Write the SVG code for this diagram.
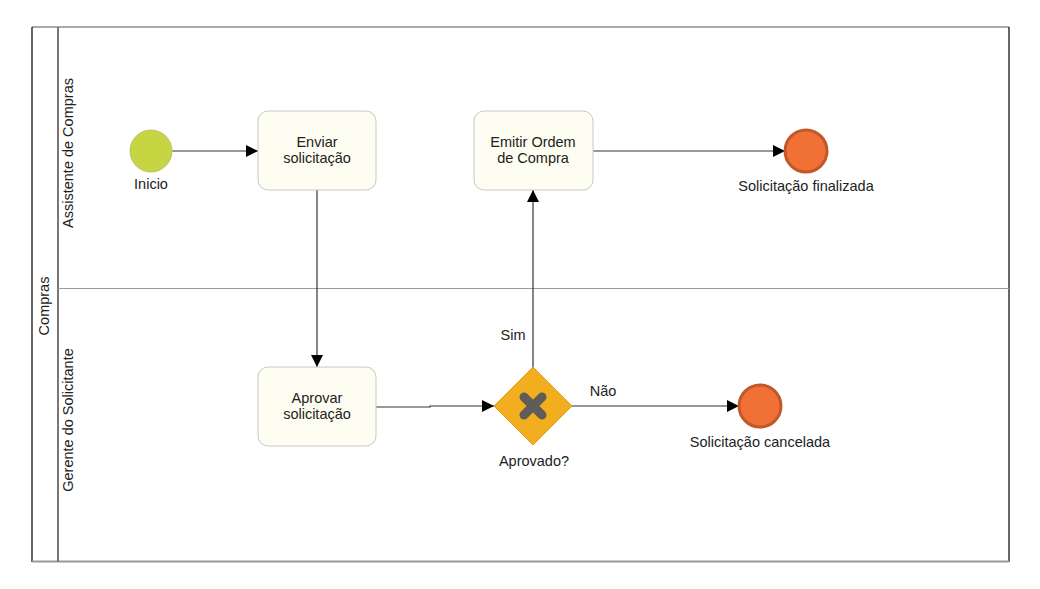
<svg xmlns="http://www.w3.org/2000/svg" width="1040" height="589" viewBox="0 0 1040 589">
<style>
text{font-family:"Liberation Sans","Noto Sans",sans-serif;font-size:14.5px;fill:#222;}
.task{fill:#fdfdf1;stroke:#c8c8c0;stroke-width:1;}
.end{fill:#f07036;stroke:#c2582a;stroke-width:3;}
.flow{fill:none;stroke:#333;stroke-width:1.2;}
</style>
<defs>
<marker id="arr" markerWidth="12" markerHeight="12" refX="12" refY="6" orient="auto" markerUnits="userSpaceOnUse">
<path d="M0,0 L12,6 L0,12 Z" fill="#000"/>
</marker>
</defs>
<rect width="1040" height="589" fill="#fff"/>
<g id="pool">
<line x1="32" y1="27" x2="1009" y2="27" stroke="#555" stroke-width="1"/>
<line x1="32" y1="27" x2="32" y2="562" stroke="#000" stroke-width="1.2"/>
<line x1="1009" y1="27" x2="1009" y2="562" stroke="#000" stroke-width="1.2"/>
<line x1="32" y1="561.5" x2="1009" y2="561.5" stroke="#999" stroke-width="2"/>
<line x1="58" y1="27" x2="58" y2="562" stroke="#777" stroke-width="2"/>
<line x1="58" y1="288.5" x2="1009" y2="288.5" stroke="#999" stroke-width="1"/>
<text transform="translate(49,306) rotate(-90)" text-anchor="middle">Compras</text>
<text transform="translate(73,153) rotate(-90)" text-anchor="middle">Assistente de Compras</text>
<text transform="translate(73,420) rotate(-90)" text-anchor="middle">Gerente do Solicitante</text>
</g>
<g id="connectors">
<line class="flow" x1="172" y1="151" x2="258" y2="151" marker-end="url(#arr)"/>
<line class="flow" x1="317" y1="190" x2="317" y2="367" marker-end="url(#arr)"/>
<polyline class="flow" points="376,407 430,407 430,406 494,406" marker-end="url(#arr)"/>
<line class="flow" x1="533" y1="367" x2="533" y2="190" marker-end="url(#arr)"/>
<line class="flow" x1="593" y1="151" x2="785" y2="151" marker-end="url(#arr)"/>
<line class="flow" x1="572" y1="406" x2="739" y2="406" marker-end="url(#arr)"/>
<text x="513" y="340" text-anchor="middle">Sim</text>
<text x="603" y="396" text-anchor="middle">Não</text>
</g>
<g id="start">
<circle cx="151" cy="151" r="21" fill="#c5d642" stroke="#b8c46a" stroke-width="1"/>
<text x="151" y="189" text-anchor="middle">Inicio</text>
</g>
<g id="enviar">
<rect class="task" x="258" y="111" width="118" height="79" rx="10"/>
<text x="317" y="147" text-anchor="middle">Enviar</text>
<text x="317" y="163" text-anchor="middle">solicitação</text>
</g>
<g id="emitir">
<rect class="task" x="474" y="111" width="119" height="79" rx="10"/>
<text x="533" y="147" text-anchor="middle">Emitir Ordem</text>
<text x="533" y="163" text-anchor="middle">de Compra</text>
</g>
<g id="aprovar">
<rect class="task" x="258" y="367" width="118" height="79" rx="10"/>
<text x="317" y="403" text-anchor="middle">Aprovar</text>
<text x="317" y="419" text-anchor="middle">solicitação</text>
</g>
<g id="gateway">
<polygon points="533,367 572,406 533,445 494,406" fill="#f2ae1e" stroke="#dc9e1c" stroke-width="1"/>
<path d="M524,397 L542,415 M542,397 L524,415" stroke="#5f5d5a" stroke-width="9" stroke-linecap="round"/>
<text x="534" y="466" text-anchor="middle">Aprovado?</text>
</g>
<g id="end-finalizada">
<circle class="end" cx="806" cy="151" r="21"/>
<text x="806" y="191" text-anchor="middle">Solicitação finalizada</text>
</g>
<g id="end-cancelada">
<circle class="end" cx="760" cy="406" r="21"/>
<text x="760" y="447" text-anchor="middle">Solicitação cancelada</text>
</g>
</svg>
